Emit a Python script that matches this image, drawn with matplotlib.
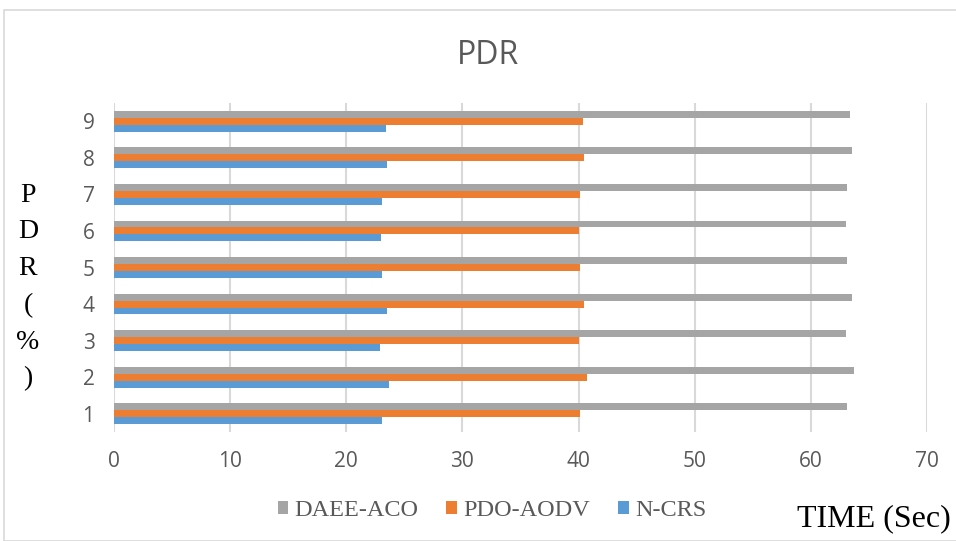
import numpy as np
import matplotlib
matplotlib.use("Agg")
from matplotlib import pyplot as plt
from matplotlib.patches import Rectangle, Patch

# data
cats = [1, 2, 3, 4, 5, 6, 7, 8, 9]
n_crs = [23.1, 23.7, 22.9, 23.5, 23.1, 23.0, 23.1, 23.5, 23.4]
pdo_aodv = [40.1, 40.7, 40.0, 40.5, 40.15, 40.0, 40.1, 40.5, 40.4]
daee_aco = [63.1, 63.7, 63.0, 63.5, 63.1, 63.0, 63.1, 63.5, 63.4]
names = ["DAEE-ACO", "PDO-AODV", "N-CRS"]
colors = ["#A5A5A5", "#ED7D31", "#5B9BD5"]
xticks = [0, 10, 20, 30, 40, 50, 60, 70]
ylab_chars = ["P", "D", "R", "(", "%", ")"]

fig = plt.figure(figsize=(9.56, 5.41), dpi=100)
ax = fig.add_axes([114/956, 1-432/541, (927-114)/956, (432-103)/541])

# outer chart border
fig.patches.append(Rectangle((4/956, 0), 1.2, 1-10/541, transform=fig.transFigure,
                             fill=False, edgecolor="#D9D9D9", linewidth=1.2))

y = np.array(cats, dtype=float)
h = 0.19
ax.barh(y - h, n_crs, height=h, color=colors[2], zorder=3)
ax.barh(y, pdo_aodv, height=h, color=colors[1], zorder=3)
ax.barh(y + h, daee_aco, height=h, color=colors[0], zorder=3)

ax.set_xlim(0, 70)
ax.set_ylim(0.5, 9.5)
ax.set_xticks(xticks)
ax.set_yticks(cats)
ax.grid(axis="x", color="#D9D9D9", linewidth=1.5, zorder=0)
for s in ax.spines.values():
    s.set_visible(False)
ax.tick_params(length=0, labelsize=15, labelcolor="#595959")
for lab in ax.get_xticklabels() + ax.get_yticklabels():
    lab.set_fontfamily("Open Sans")
ax.tick_params(axis="y", pad=14)
ax.tick_params(axis="x", pad=14)

fig.text(488/956, 1-55/541, "PDR", ha="center", va="center", fontsize=23,
         color="#595959", fontfamily="Open Sans")

# y label, one letter per line
ypix = 195
for ch in ylab_chars:
    fig.text(28/956, 1-ypix/541, ch, ha="center", va="center", fontsize=20,
             fontfamily="Liberation Serif", color="black")
    ypix += 36.8

fig.text(951/956, 1-519/541, "TIME (Sec)", ha="right", va="center",
         fontsize=23, fontfamily="Liberation Serif", color="black")

handles = [Patch(facecolor=c) for c in colors]
leg = fig.legend(handles, names, loc="center", bbox_to_anchor=(492/956, 1-511/541),
                 ncol=3, frameon=False, handlelength=0.45, handleheight=0.45,
                 handletextpad=0.25, columnspacing=1.15, borderpad=0, borderaxespad=0,
                 prop={"family": "Liberation Serif", "size": 17.5})
for t in leg.get_texts():
    t.set_color("#595959")

fig.savefig("out.png", dpi=100)
